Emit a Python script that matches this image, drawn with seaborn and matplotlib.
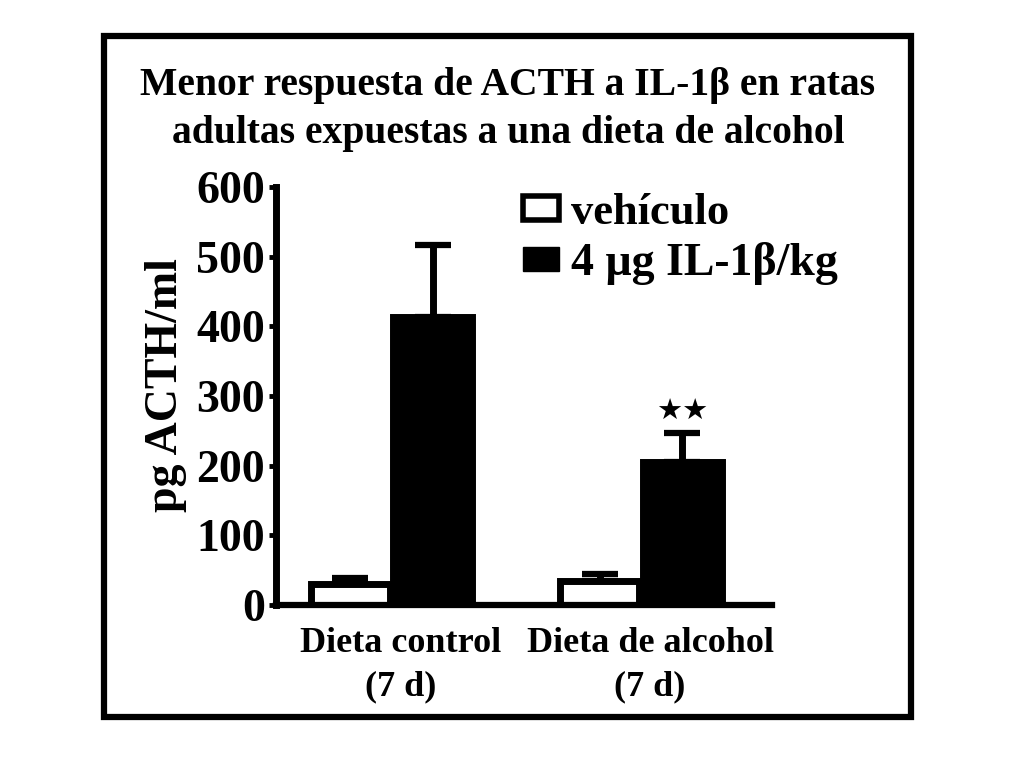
import matplotlib
matplotlib.use("Agg")
import matplotlib.pyplot as plt
from matplotlib.patches import Patch, Rectangle
from matplotlib.transforms import ScaledTranslation
import pandas as pd
import seaborn as sns

# valores (pg ACTH/ml)
dietas = ["Dieta control\n(7 d)", "Dieta de alcohol\n(7 d)"]
tratamientos = ["vehículo", "4 μg IL-1β/kg"]
media_vehiculo = [30, 35]
media_il1b = [413, 206]
sem_vehiculo = [9, 9]
sem_il1b = [104, 41]
significancia = ["", "★★"]

titulo = "Menor respuesta de ACTH a IL-1β en ratas\nadultas expuestas a una dieta de alcohol"
yticks = [0, 100, 200, 300, 400, 500, 600]

df = pd.DataFrame({
    "dieta": dietas * 2,
    "tratamiento": [tratamientos[0]] * 2 + [tratamientos[1]] * 2,
    "acth": media_vehiculo + media_il1b,
    "sem": sem_vehiculo + sem_il1b,
})

sns.set_style("ticks")
plt.rcParams["font.family"] = ["Liberation Serif", "DejaVu Serif", "DejaVu Sans"]
plt.rcParams["font.weight"] = "bold"
plt.rcParams["text.color"] = "black"
plt.rcParams["axes.labelcolor"] = "black"
plt.rcParams["xtick.color"] = "black"
plt.rcParams["ytick.color"] = "black"

fig = plt.figure(figsize=(10.24, 7.68), dpi=100)
ax = fig.add_axes([0.2695, 0.2122, 0.4844, 0.5443])

sns.barplot(data=df, x="dieta", y="acth", hue="tratamiento", hue_order=tratamientos,
            palette=["white", "black"], edgecolor="black", linewidth=5,
            errorbar=None, width=0.66, gap=0.04, legend=False, ax=ax)

# barras de error solo hacia arriba
for cont, errs in zip(ax.containers, [sem_vehiculo, sem_il1b]):
    xs = [b.get_x() + b.get_width() / 2 for b in cont]
    hs = [b.get_height() for b in cont]
    ax.errorbar(xs, hs, yerr=[[0] * len(errs), errs], fmt="none", ecolor="black",
                elinewidth=5, capsize=13, capthick=4.5, zorder=5)

cont = ax.containers[1]
for b, e, s in zip(cont, sem_il1b, significancia):
    if s:
        ax.text(b.get_x() + b.get_width() / 2, b.get_height() + e + 10, s,
                ha="center", va="bottom", fontsize=21, family=["DejaVu Sans"],
                color="black")

ax.set_xlim(-0.463, 1.525)
ax.set_ylim(0, 600)
ax.set_yticks(yticks)
ax.set_yticklabels([str(t) for t in yticks], fontsize=33, fontweight="bold")
ax.tick_params(axis="y", length=5, width=3.5, pad=3, colors="black")
ax.tick_params(axis="x", length=0, pad=16)
desplaza = ScaledTranslation(9 / 100, 0, fig.dpi_scale_trans)
for lab in ax.get_xticklabels():
    lab.set_fontsize(26)
    lab.set_fontweight("bold")
    lab.set_linespacing(1.4)
    lab.set_transform(lab.get_transform() + desplaza)
ax.set_xlabel("")
ax.set_ylabel("pg ACTH/ml", fontsize=33, fontweight="bold", labelpad=4)
ax.yaxis.set_label_coords(-0.18, 0.527)

sns.despine(ax=ax)
ax.spines["left"].set_linewidth(5)
ax.spines["bottom"].set_linewidth(4.5)
ax.spines["left"].set_color("black")
ax.spines["bottom"].set_color("black")

handles = [Patch(facecolor="white", edgecolor="black", linewidth=4),
           Patch(facecolor="black", edgecolor="black")]
leg = fig.legend(handles, tratamientos, loc="upper left",
                 bbox_to_anchor=(0.489, 0.778), frameon=False, fontsize=32,
                 handlelength=0.8, handleheight=0.45, handletextpad=0.28,
                 labelspacing=0.2, borderpad=0)
leg.get_texts()[1].set_fontsize(33)

fig.text(0.496, 0.857, titulo, ha="center", va="center", fontsize=28.5,
         fontweight="bold", linespacing=1.4)

fig.patches.append(Rectangle((0.1016, 0.0664), 0.788, 0.8866, transform=fig.transFigure,
                             fill=False, edgecolor="black", linewidth=4.5))

fig.savefig("out.png", dpi=100, facecolor="white")
